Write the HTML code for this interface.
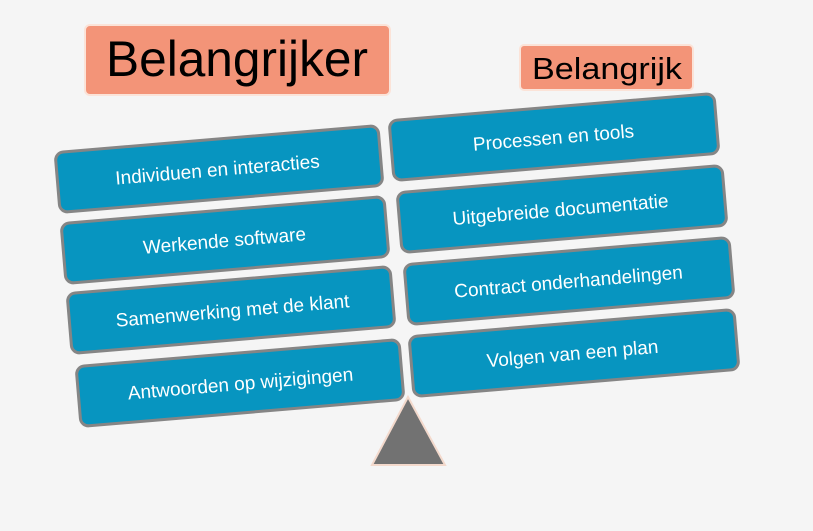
<!DOCTYPE html>
<html><head><meta charset="utf-8"><style>
html,body{margin:0;padding:0;background:#f5f5f5;}
svg{display:block;}
</style></head><body>
<svg width="813" height="531" viewBox="0 0 813 531" xmlns="http://www.w3.org/2000/svg" font-family="Liberation Sans, sans-serif">
<rect width="813" height="531" fill="#f5f5f5"/>
<rect x="85" y="25" width="305" height="70" rx="5" fill="#f39478" stroke="#fbe3d8" stroke-width="2"/>
<text x="237" y="76" text-anchor="middle" font-size="50" fill="#000" textLength="262" lengthAdjust="spacingAndGlyphs">Belangrijker</text>
<rect x="520" y="45" width="173" height="45" rx="4" fill="#f39478" stroke="#fbe3d8" stroke-width="2"/>
<text x="607" y="79" text-anchor="middle" font-size="31" fill="#000" textLength="150" lengthAdjust="spacingAndGlyphs">Belangrijk</text>
<polygon points="408,397 372,465 445,465" fill="#727272" stroke="#f3d9cc" stroke-width="2"/>
<g fill="#0795c0" stroke="#858585" stroke-width="3">
<rect x="-162" y="-30" width="324" height="60" rx="8" transform="translate(219,169) rotate(-4.8)"/>
<rect x="-162" y="-30" width="324" height="60" rx="8" transform="translate(225,240) rotate(-4.8)"/>
<rect x="-162" y="-30" width="324" height="60" rx="8" transform="translate(231,310) rotate(-4.8)"/>
<rect x="-162" y="-30" width="324" height="60" rx="8" transform="translate(240,383) rotate(-4.8)"/>
<rect x="-163" y="-30" width="326" height="60" rx="8" transform="translate(554,137) rotate(-4.8)"/>
<rect x="-163" y="-30" width="326" height="60" rx="8" transform="translate(562,209) rotate(-4.8)"/>
<rect x="-163" y="-30" width="326" height="60" rx="8" transform="translate(569,281) rotate(-4.8)"/>
<rect x="-163" y="-30" width="326" height="60" rx="8" transform="translate(574,353) rotate(-4.8)"/>
</g>
<g fill="#fff" font-size="19" text-anchor="middle">
<text transform="translate(218,176) rotate(-4.8)">Individuen en interacties</text>
<text transform="translate(225,247) rotate(-4.8)">Werkende software</text>
<text transform="translate(233,317) rotate(-4.8)">Samenwerking met de klant</text>
<text transform="translate(241,390) rotate(-4.8)">Antwoorden op wijzigingen</text>
<text transform="translate(554,144) rotate(-4.8)">Processen en tools</text>
<text transform="translate(561,216) rotate(-4.8)">Uitgebreide documentatie</text>
<text transform="translate(569,288) rotate(-4.8)">Contract onderhandelingen</text>
<text transform="translate(573,360) rotate(-4.8)">Volgen van een plan</text>
</g>
</svg>
</body></html>
